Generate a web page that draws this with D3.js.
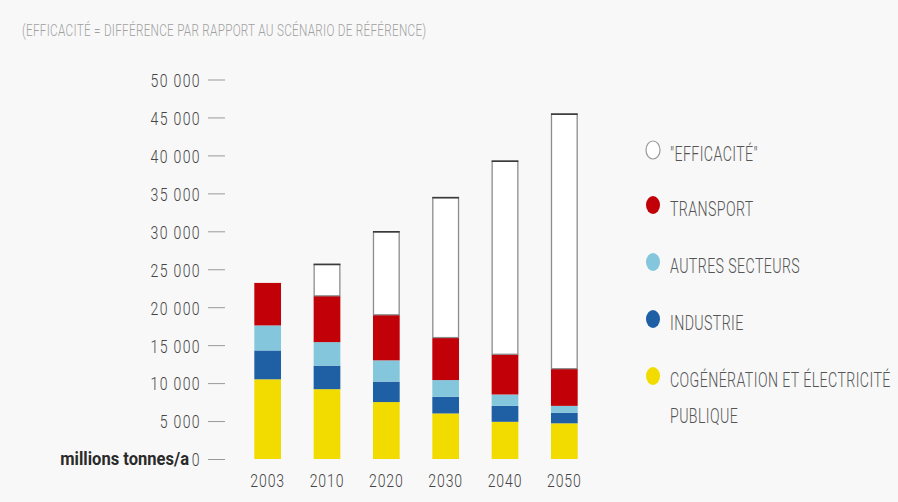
<!DOCTYPE html>
<html lang="fr">
<head>
<meta charset="utf-8">
<script src="https://cdn.jsdelivr.net/npm/d3@7"></script>
<style>
  html, body { margin: 0; padding: 0; background: #f8f8f8; }
  svg { display: block; }
  text { font-family: Roboto, "Liberation Sans", sans-serif; }
</style>
</head>
<body>
<svg id="chart" width="898" height="502"></svg>
<script>
// Émissions de CO2 par secteur (millions tonnes/a)
const years = ["2003", "2010", "2020", "2030", "2040", "2050"];
const cogeneration = [10500, 9200, 7500, 6000, 4900, 4700];
const industrie    = [3800, 3100, 2700, 2200, 2100, 1400];
const autres       = [3300, 3100, 2800, 2200, 1500, 900];
const transport    = [5600, 6100, 6000, 5600, 5300, 4900];
const efficacite   = [0, 4200, 11000, 18500, 25500, 33600];

const seriesKeys   = ["cogeneration", "industrie", "autres", "transport", "efficacite"];
const seriesColors = ["#f2dc00", "#1f5fa4", "#84c6dc", "#c20008", "#ffffff"];
const legendKeys   = ["efficacite", "transport", "autres", "industrie", "cogeneration"];
const legendLabels = [
  ["\"EFFICACITÉ\""],
  ["TRANSPORT"],
  ["AUTRES SECTEURS"],
  ["INDUSTRIE"],
  ["COGÉNÉRATION ET ÉLECTRICITÉ", "PUBLIQUE"]
];
const yTicks = [0, 5000, 10000, 15000, 20000, 25000, 30000, 35000, 40000, 45000, 50000];
const titleText = "(EFFICACITÉ = DIFFÉRENCE PAR RAPPORT AU SCÉNARIO DE RÉFÉRENCE)";
const unitText = "millions tonnes/a";

const rows = years.map((yr, i) => ({
  year: yr,
  cogeneration: cogeneration[i],
  industrie: industrie[i],
  autres: autres[i],
  transport: transport[i],
  efficacite: efficacite[i]
}));

const svg = d3.select("#chart");
const color = d3.scaleOrdinal().domain(seriesKeys).range(seriesColors);

const x = d3.scaleBand().domain(years).range([238, 594]).paddingInner(0.55).paddingOuter(0.275);
const y = d3.scaleLinear().domain([0, 50000]).range([459, 79.5]);

const fr = d3.formatLocale({ decimal: ",", thousands: " ", grouping: [3], currency: ["", " €"] });
const fmt = fr.format(",d");

// Titre
svg.append("text")
  .attr("transform", "translate(22,36) scale(0.69,1)")
  .attr("font-size", 17)
  .attr("font-weight", 300)
  .attr("fill", "#a0a0a0")
  .attr("letter-spacing", 0.4)
  .text(titleText);

// Axe vertical
const yAxis = svg.append("g")
  .attr("transform", "translate(225,0)")
  .call(d3.axisLeft(y).tickValues(yTicks).tickSize(17).tickFormat(fmt));
yAxis.select(".domain").remove();
yAxis.selectAll(".tick line").attr("stroke", "#9a9a9a").attr("stroke-width", 1);
yAxis.selectAll(".tick text")
  .attr("x", null)
  .attr("dy", "0.36em")
  .attr("transform", "translate(-24,0) scale(0.74,1)")
  .attr("font-size", 19)
  .attr("font-weight", 300)
  .attr("letter-spacing", 1.8)
  .attr("fill", "#444")
  .attr("text-anchor", "end");

// Unité
svg.append("text")
  .attr("transform", `translate(189,${y(0)}) scale(0.92,1)`)
  .attr("dy", "0.36em")
  .attr("text-anchor", "end")
  .attr("font-size", 18)
  .attr("font-weight", 700)
  .attr("fill", "#2a2a2a")
  .text(unitText);

// Barres empilées
const stacked = d3.stack().keys(seriesKeys)(rows);
const layers = svg.append("g").selectAll("g")
  .data(stacked)
  .join("g")
  .attr("fill", d => color(d.key));

layers.each(function (layer) {
  const g = d3.select(this);
  const isEff = layer.key === "efficacite";
  g.selectAll("rect")
    .data(layer.filter(d => d[1] - d[0] > 0))
    .join("rect")
    .attr("x", d => x(d.data.year) + (isEff ? 0.5 : 0))
    .attr("y", d => y(d[1]) + (isEff ? 0.5 : 0))
    .attr("width", x.bandwidth() - (isEff ? 1 : 0))
    .attr("height", d => y(d[0]) - y(d[1]) - (isEff ? 0.5 : 0))
    .attr("stroke", isEff ? "#8c8c8c" : "none")
    .attr("stroke-width", isEff ? 1.3 : 0);
  if (isEff) {
    g.selectAll("line")
      .data(layer.filter(d => d[1] - d[0] > 0))
      .join("line")
      .attr("x1", d => x(d.data.year))
      .attr("x2", d => x(d.data.year) + x.bandwidth())
      .attr("y1", d => y(d[1]) + 0.5)
      .attr("y2", d => y(d[1]) + 0.5)
      .attr("stroke", "#3a3a3a")
      .attr("stroke-width", 1.6);
  }
});

// Axe horizontal (années)
svg.append("g").selectAll("text")
  .data(years)
  .join("text")
  .attr("transform", d => `translate(${x(d) + x.bandwidth() / 2},487) scale(0.74,1)`)
  .attr("text-anchor", "middle")
  .attr("font-size", 19)
  .attr("font-weight", 300)
  .attr("letter-spacing", 1.2)
  .attr("fill", "#444")
  .text(d => d);

// Légende
const legendY = [150, 205, 262, 319, 376];
const legend = svg.append("g").selectAll("g")
  .data(legendKeys)
  .join("g")
  .attr("transform", (d, i) => `translate(653,${legendY[i]})`);

legend.append("ellipse")
  .attr("rx", 7)
  .attr("ry", 9)
  .attr("fill", d => color(d))
  .attr("stroke", d => d === "efficacite" ? "#9a9a9a" : "none")
  .attr("stroke-width", 1.2);

legend.each(function (d, i) {
  const g = d3.select(this);
  legendLabels[i].forEach((line, j) => {
    g.append("text")
      .attr("transform", `translate(17,${11 + j * 36}) scale(0.71,1)`)
      .attr("font-size", 20)
      .attr("font-weight", 300)
      .attr("letter-spacing", 0.55)
      .attr("fill", "#555")
      .text(line);
  });
});
</script>
</body>
</html>
